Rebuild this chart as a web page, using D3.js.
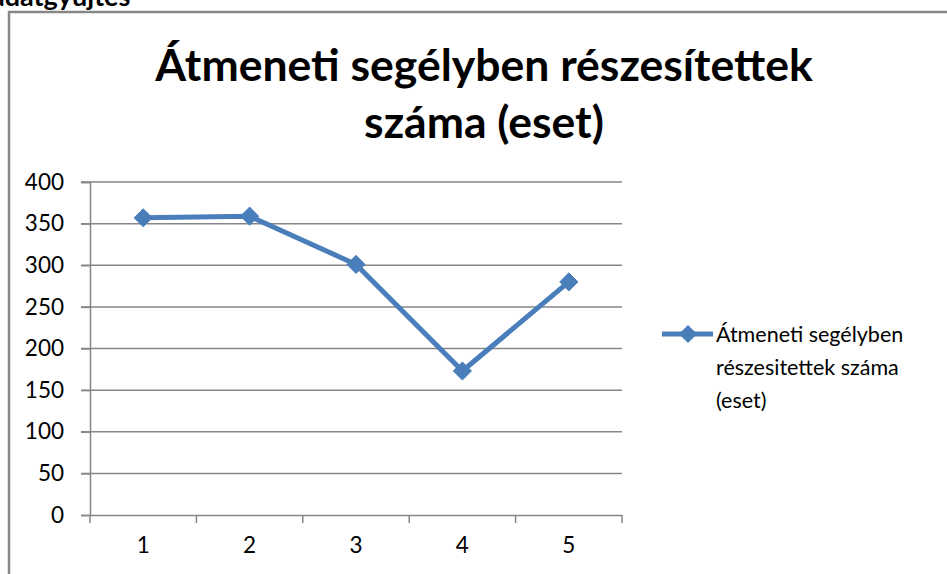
<!DOCTYPE html>
<html>
<head>
<meta charset="utf-8">
<script src="https://cdn.jsdelivr.net/npm/d3@7"></script>
<style>
  body { margin: 0; background: #fff; }
  svg { display: block; }
</style>
</head>
<body>
<script>
// data
const categories = ["1", "2", "3", "4", "5"];
const values = [357, 359, 301, 173, 280];
const yTicks = [0, 50, 100, 150, 200, 250, 300, 350, 400];
const titleLines = ["Átmeneti segélyben részesítettek", "száma (eset)"];
const legendLines = ["Átmeneti segélyben", "részesitettek száma", "(eset)"];

const W = 947, H = 574;
const font = "Lato, 'Open Sans', sans-serif";
const blue = "#4a7ebb";
const grey = "#868686";

const svg = d3.select("body").append("svg")
  .attr("width", W)
  .attr("height", H);

// header text above the chart, cut off by the top edge as in the picture
svg.append("text")
  .attr("x", -9).attr("y", 6)
  .attr("font-family", font).attr("font-weight", "bold")
  .attr("font-size", 27)
  .text("adatgyűjtés");

// chart border (runs off the right and bottom edges)
svg.append("rect")
  .attr("x", 9).attr("y", 12)
  .attr("width", 960).attr("height", 600)
  .attr("fill", "none")
  .attr("stroke", grey).attr("stroke-width", 2.5);

// title
svg.append("g").selectAll("text")
  .data(titleLines)
  .enter().append("text")
  .attr("x", 484)
  .attr("y", (d, i) => 81 + i * 57)
  .attr("text-anchor", "middle")
  .attr("font-family", font).attr("font-weight", "bold")
  .attr("font-size", 44.5)
  .text(d => d);

const x = d3.scaleBand().domain(categories).range([90, 622]);
const y = d3.scaleLinear().domain([0, 400]).range([515, 182]);

// horizontal gridlines
svg.append("g").selectAll("line")
  .data(yTicks.filter(d => d > 0))
  .enter().append("line")
  .attr("x1", 81).attr("x2", 622)
  .attr("y1", d => y(d)).attr("y2", d => y(d))
  .attr("stroke", grey).attr("stroke-width", 1.5);

// y axis
const yAxis = svg.append("g")
  .attr("transform", "translate(90,0)")
  .call(d3.axisLeft(y).tickValues(yTicks).tickSize(9).tickPadding(17));
yAxis.select(".domain").attr("stroke", grey).attr("stroke-width", 1.5);
yAxis.selectAll(".tick line").attr("stroke", grey).attr("stroke-width", 1.5);
yAxis.selectAll("text")
  .attr("font-family", font).attr("font-size", 22.5).attr("fill", "#000");

// x axis, ticks between categories
const xAxis = svg.append("g")
  .attr("transform", "translate(0," + y(0) + ")")
  .call(d3.axisBottom(x).tickSize(0).tickSizeOuter(0).tickPadding(22));
xAxis.select(".domain").attr("stroke", grey).attr("stroke-width", 1.5);
xAxis.selectAll("text")
  .attr("font-family", font).attr("font-size", 22.5).attr("fill", "#000");
xAxis.selectAll(".sep")
  .data(categories.map(c => x(c)).concat([x.range()[1]]))
  .enter().append("line")
  .attr("class", "sep")
  .attr("x1", d => d).attr("x2", d => d)
  .attr("y1", 0).attr("y2", 8)
  .attr("stroke", grey).attr("stroke-width", 1.5);

// series line
const cx = d => x(d.c) + x.bandwidth() / 2;
const pts = categories.map((c, i) => ({ c: c, v: values[i] }));

svg.append("path")
  .datum(pts)
  .attr("fill", "none")
  .attr("stroke", blue).attr("stroke-width", 5)
  .attr("stroke-linejoin", "round")
  .attr("d", d3.line().x(cx).y(d => y(d.v)));

const diamond = d3.symbol().type(d3.symbolDiamond2).size(210);
svg.append("g").selectAll("path")
  .data(pts)
  .enter().append("path")
  .attr("transform", d => "translate(" + cx(d) + "," + y(d.v) + ")")
  .attr("d", diamond)
  .attr("fill", blue).attr("stroke", blue).attr("stroke-width", 1);

// legend
const lg = svg.append("g");
lg.append("line")
  .attr("x1", 662).attr("x2", 713)
  .attr("y1", 334).attr("y2", 334)
  .attr("stroke", blue).attr("stroke-width", 5);
lg.append("path")
  .attr("transform", "translate(688,334)")
  .attr("d", diamond)
  .attr("fill", blue);
lg.selectAll("text")
  .data(legendLines)
  .enter().append("text")
  .attr("x", 716)
  .attr("y", (d, i) => 342 + i * 33)
  .attr("font-family", font).attr("font-size", 21.5)
  .text(d => d);
</script>
</body>
</html>
